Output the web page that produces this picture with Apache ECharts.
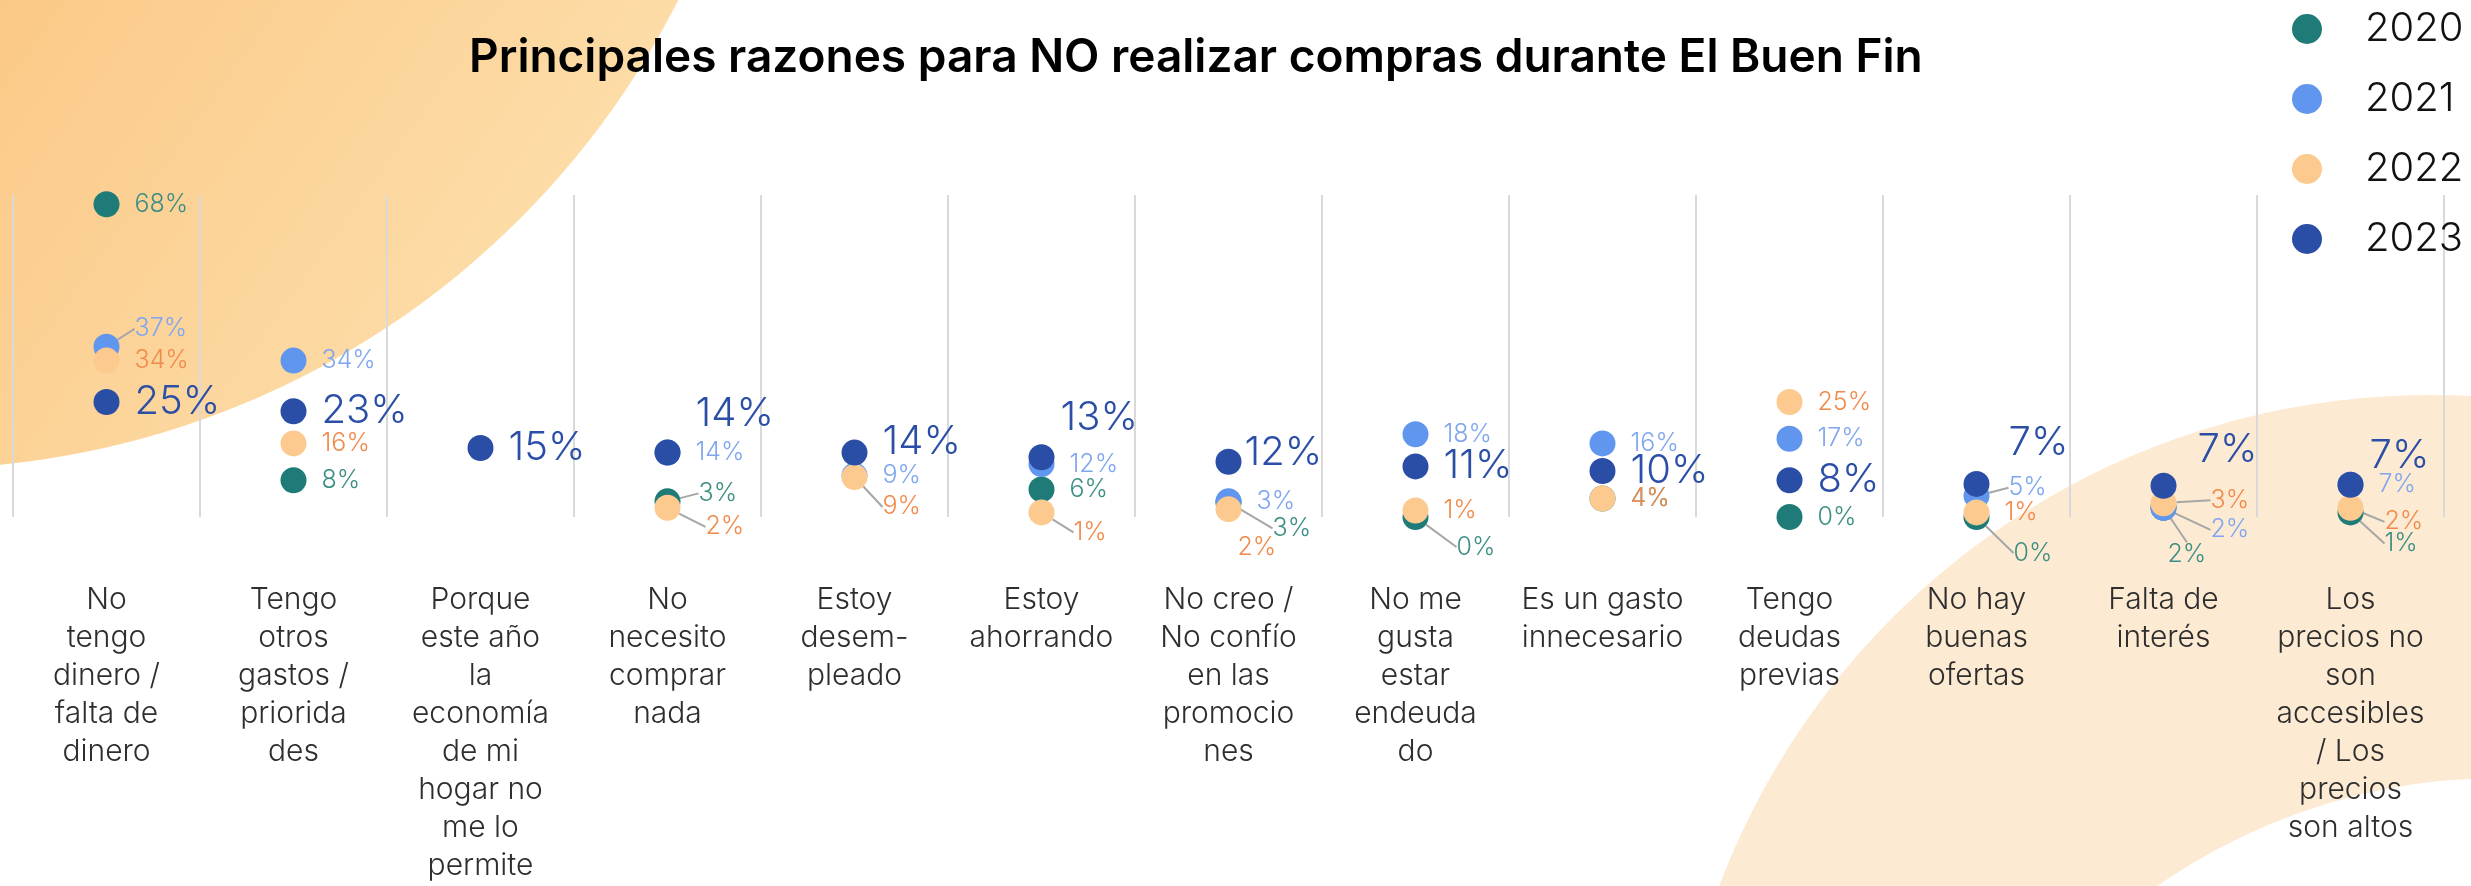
<!DOCTYPE html>
<html>
<head>
<meta charset="utf-8">
<title>Principales razones</title>
<script src="https://cdn.jsdelivr.net/npm/echarts@6/dist/echarts.min.js"></script>
<style>
  html, body { margin: 0; padding: 0; background: #fff; }
  #chart { width: 2471px; height: 886px; }
</style>
</head>
<body>
<div id="chart"></div>
<script>
// categorias (saltos de linea como en el original)
var categories = [
  'No\ntengo\ndinero /\nfalta de\ndinero',
  'Tengo\notros\ngastos /\npriorida\ndes',
  'Porque\neste año\nla\neconomía\nde mi\nhogar no\nme lo\npermite',
  'No\nnecesito\ncomprar\nnada',
  'Estoy\ndesem-\npleado',
  'Estoy\nahorrando',
  'No creo /\nNo confío\nen las\npromocio\nnes',
  'No me\ngusta\nestar\nendeuda\ndo',
  'Es un gasto\ninnecesario',
  'Tengo\ndeudas\nprevias',
  'No hay\nbuenas\nofertas',
  'Falta de\ninterés',
  'Los\nprecios no\nson\naccesibles\n/ Los\nprecios\nson altos'
];
var years = ['2020', '2021', '2022', '2023'];
var v2020 = [68, 8, null, 3.4, null, 6, 3.2, 0, 4, 0, 0, 2, 1];
var v2021 = [37, 34, null, 14, 9, 11.5, 3.4, 18, 16, 17, 4.6, 2, 7];
var v2022 = [34, 16, null, 2, 8.7, 1, 1.7, 1.4, 4, 25, 1, 3, 2];
var v2023 = [25, 23, 15, 14, 14, 13, 12, 11, 10, 8, 7.2, 6.8, 7];

var dotColors = ['#1E7B78', '#6196EE', '#FCCA8F', '#2A4EA6'];
var textColors = ['#3D8F85', '#7FA6EE', '#F08B4B', '#2B4FA6'];

// desplazamientos de etiquetas [dx, dy] por categoria
var shifts = [
  {3: [3, -8], 6: [16, 26], 7: [13, 30], 10: [9, 36], 11: [-24, 47], 12: [6, 31]},
  {0: [0, -18], 10: [4, -8], 11: [19, 22]},
  {3: [10, 19], 4: [0, 30], 5: [4, 20], 6: [-19, 38], 11: [19, -3], 12: [6, 14]},
  {3: [0, -39], 4: [0, -11], 5: [-9, -39], 6: [-12, -9], 10: [4, -41], 11: [6, -36], 12: [-9, -29]}
];
// etiquetas con linea guia
var leaders = [[3, 6, 7, 10, 11, 12], [0, 10, 11], [3, 4, 5, 11, 12], []];

var font = 'Inter, "Open Sans", sans-serif';

function buildData(vals, lead) {
  return vals.map(function (v, i) {
    if (v == null) return '-';
    if (lead.indexOf(i) >= 0) return { value: v, labelLine: { show: true } };
    return v;
  });
}

var allVals = [v2020, v2021, v2022, v2023];
var series = years.map(function (y, s) {
  return {
    name: y,
    type: 'scatter',
    data: buildData(allVals[s], leaders[s]),
    symbolSize: 26,
    itemStyle: { color: dotColors[s], opacity: 1 },
    label: {
      show: true,
      position: 'right',
      distance: 15,
      color: textColors[s],
      fontFamily: font,
      fontWeight: 300,
      fontSize: s === 3 ? 40 : 25,
      formatter: function (p) { return Math.round(p.value) + '%'; }
    },
    labelLine: { show: false, lineStyle: { color: '#A6A6A6', width: 2 } },
    labelLayout: function (p) {
      var o = shifts[s][p.dataIndex];
      return o ? { dx: o[0], dy: o[1] } : {};
    },
    emphasis: { disabled: true }
  };
});

var chart = echarts.init(document.getElementById('chart'));
chart.setOption({
  backgroundColor: '#ffffff',
  animation: false,
  title: {
    text: 'Principales razones para NO realizar compras durante El Buen Fin',
    left: 464,
    top: 30,
    textStyle: { fontFamily: font, fontSize: 46, fontWeight: 600, color: '#000' }
  },
  graphic: [
    {
      type: 'circle', z: -10, silent: true,
      shape: { cx: -84, cy: -385, r: 854 },
      style: {
        fill: new echarts.graphic.LinearGradient(0, 0, 700, 500, [
          { offset: 0, color: '#FBC987' },
          { offset: 1, color: '#FEE6B8' }
        ], true)
      }
    },
    { type: 'circle', z: -10, silent: true, shape: { cx: 2430, cy: 1155, r: 760 }, style: { fill: '#FDEAD2' } },
    { type: 'circle', z: -5, silent: true, shape: { cx: 2500, cy: 1375, r: 597 }, style: { fill: '#FFFFFF' } }
  ],
  legend: {
    data: years,
    orient: 'vertical',
    left: 2292,
    top: 9,
    padding: 0,
    itemWidth: 30,
    itemHeight: 30,
    itemGap: 30,
    icon: 'circle',
    textStyle: { fontFamily: font, fontWeight: 300, fontSize: 40, color: '#111', padding: [0, 0, 0, 38] }
  },
  grid: { left: 13, right: 27, top: 195, bottom: 369, containLabel: false },
  xAxis: {
    type: 'category',
    data: categories,
    boundaryGap: true,
    axisLine: { show: false },
    axisTick: { show: false },
    splitLine: { show: true, lineStyle: { color: '#D9D9D9', width: 2 } },
    axisLabel: {
      interval: 0,
      margin: 64,
      fontFamily: font,
      fontWeight: 300,
      fontSize: 30,
      lineHeight: 38,
      color: '#2E2E2E'
    }
  },
  yAxis: { type: 'value', min: 0, max: 70, show: false },
  series: series
});
</script>
</body>
</html>
